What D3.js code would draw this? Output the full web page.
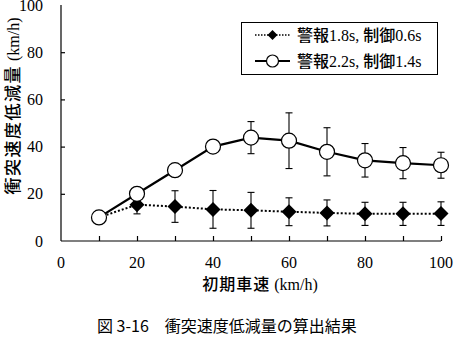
<!DOCTYPE html>
<html>
<head>
<meta charset="utf-8">
<script src="https://d3js.org/d3.v7.min.js"></script>
<style>
  body { margin: 0; background: #fff; }
  .serif { font-family: 'Liberation Serif', 'DejaVu Serif'; }
  .jp { font-family: 'Noto Sans CJK JP', sans-serif; }
</style>
</head>
<body>
<div id="chart"></div>
<script>
// initial vehicle speed (km/h)
var speeds = [10, 20, 30, 40, 50, 60, 70, 80, 90, 100];

// 警報1.8s, 制御0.6s
var seriesA = [10, 15.4, 14.6, 13.4, 13, 12.4, 11.9, 11.5, 11.5, 11.6];
var errA    = [0, 3.9, 6.7, 8, 7.6, 5.9, 5.5, 4.9, 4.9, 5];

// 警報2.2s, 制御1.4s
var seriesB = [10, 20, 30, 40, 43.8, 42.5, 37.8, 34.2, 33, 32.1];
var errB    = [0, 0, 0, 0, 6.8, 11.8, 10.2, 7.1, 6.6, 5.5];

var xTicks = [0, 20, 40, 60, 80, 100];
var yTicks = [0, 20, 40, 60, 80, 100];
var legendLabels = ["警報1.8s, 制御0.6s", "警報2.2s, 制御1.4s"];

var LS = "'Liberation Serif'";
var W = 457, H = 341;
var svg = d3.select("#chart").append("svg").attr("width", W).attr("height", H);

var x = d3.scaleLinear().domain([0, 100]).range([61, 441]);
var y = d3.scaleLinear().domain([0, 100]).range([241, 5]);

// axes (ticks point inward)
var xAxis = svg.append("g").attr("transform", "translate(0," + y(0) + ")")
    .call(d3.axisBottom(x).tickValues(d3.range(10, 101, 10)).tickSize(-5).tickFormat(""));
xAxis.select(".domain").attr("d", "M" + x(0) + ",0H" + x(100));
xAxis.selectAll("path, line").attr("stroke", "#000").attr("stroke-width", 1.2);

var yAxis = svg.append("g").attr("transform", "translate(" + x(0) + ",0)")
    .call(d3.axisLeft(y).tickValues(yTicks.slice(1, 5)).tickSize(-4).tickFormat(""));
yAxis.select(".domain").attr("d", "M0," + y(0) + "V" + y(100));
yAxis.selectAll("path, line").attr("stroke", "#000").attr("stroke-width", 1.2);

// tick labels
svg.append("g").selectAll("text").data(xTicks).join("text")
    .attr("class", "serif").attr("font-family", "Liberation Serif").style("font-family", LS)
    .attr("x", d => x(d)).attr("y", 268)
    .attr("text-anchor", "middle").attr("font-size", 16).text(d => d);
svg.append("g").selectAll("text").data(yTicks).join("text")
    .attr("class", "serif").attr("font-family", "Liberation Serif").style("font-family", LS)
    .attr("x", 43).attr("y", d => y(d) + 5.5)
    .attr("text-anchor", "end").attr("font-size", 16).text(d => d);

// axis titles
var xt = svg.append("text").attr("x", 260).attr("y", 290).attr("text-anchor", "middle");
xt.append("tspan").attr("class", "jp").attr("font-size", 16).attr("letter-spacing", 1)
    .attr("font-weight", 500).text("初期車速");
xt.append("tspan").attr("class", "serif").style("font-family", LS).attr("font-size", 16).text(" (km/h)");

var yt = svg.append("text").attr("transform", "translate(19,106) rotate(-90)").attr("text-anchor", "middle");
yt.append("tspan").attr("class", "jp").attr("font-size", 17).attr("letter-spacing", 1.5)
    .attr("font-weight", 500).text("衝突速度低減量");
yt.append("tspan").attr("class", "serif").style("font-family", LS).attr("font-size", 16).text(" (km/h)");

// caption
svg.append("text").attr("class", "jp").attr("x", 97).attr("y", 332)
    .attr("font-size", 16).text("図 3-16　衝突速度低減量の算出結果");

var line = d3.line().x((d, i) => x(speeds[i])).y(d => y(d));

function errorBars(vals, errs) {
  var g = svg.append("g").attr("stroke", "#000").attr("stroke-width", 1.1);
  speeds.forEach(function (s, i) {
    if (!errs[i]) return;
    var cx = x(s), t = y(vals[i] + errs[i]), b = y(vals[i] - errs[i]);
    g.append("line").attr("x1", cx).attr("x2", cx).attr("y1", t).attr("y2", b);
    g.append("line").attr("x1", cx - 3.5).attr("x2", cx + 3.5).attr("y1", t).attr("y2", t);
    g.append("line").attr("x1", cx - 3.5).attr("x2", cx + 3.5).attr("y1", b).attr("y2", b);
  });
}

// square diamond marker
function diamondPath(r) {
  return "M0," + (-r) + "L" + r + ",0L0," + r + "L" + (-r) + ",0Z";
}

// series A: dotted line with diamonds
errorBars(seriesA, errA);
svg.append("path").datum(seriesA).attr("d", line).attr("fill", "none")
    .attr("stroke", "#000").attr("stroke-width", 2).attr("stroke-dasharray", "2,2");
svg.append("g").selectAll("path").data(seriesA).join("path")
    .attr("d", diamondPath(7.5)).attr("fill", "#000")
    .attr("transform", (d, i) => "translate(" + x(speeds[i]) + "," + y(d) + ")");

// series B: solid line with open circles
errorBars(seriesB, errB);
svg.append("path").datum(seriesB).attr("d", line).attr("fill", "none")
    .attr("stroke", "#000").attr("stroke-width", 2.2);
svg.append("g").selectAll("circle").data(seriesB).join("circle")
    .attr("cx", (d, i) => x(speeds[i])).attr("cy", d => y(d)).attr("r", 7.5)
    .attr("fill", "#fff").attr("stroke", "#000").attr("stroke-width", 1.2);

// legend
var lg = svg.append("g");
lg.append("rect").attr("x", 241.5).attr("y", 22.5).attr("width", 196).attr("height", 52)
    .attr("fill", "#fff").attr("stroke", "#000").attr("stroke-width", 1);
var lx1 = 255, lx2 = 290, lxm = 272.5;
lg.append("line").attr("x1", lx1).attr("x2", lx2).attr("y1", 35).attr("y2", 35)
    .attr("stroke", "#000").attr("stroke-width", 1.6).attr("stroke-dasharray", "1.5,1.5");
lg.append("path").attr("d", diamondPath(5))
    .attr("transform", "translate(" + lxm + ",35)").attr("fill", "#000");
lg.append("line").attr("x1", lx1).attr("x2", lx2).attr("y1", 61).attr("y2", 61)
    .attr("stroke", "#000").attr("stroke-width", 2.2);
lg.append("circle").attr("cx", lxm).attr("cy", 61).attr("r", 6)
    .attr("fill", "#fff").attr("stroke", "#000").attr("stroke-width", 1.2);

legendLabels.forEach(function (lab, i) {
  var m = lab.match(/^(警報)([\d.]+s), (制御)([\d.]+s)$/);
  var t = lg.append("text").attr("x", 297).attr("y", 41 + i * 26).attr("font-size", 16);
  t.append("tspan").attr("class", "jp").attr("font-weight", 500).text(m[1]);
  t.append("tspan").attr("class", "serif").style("font-family", LS).text(m[2] + ", ");
  t.append("tspan").attr("class", "jp").attr("font-weight", 500).text(m[3]);
  t.append("tspan").attr("class", "serif").style("font-family", LS).text(m[4]);
});
</script>
</body>
</html>
